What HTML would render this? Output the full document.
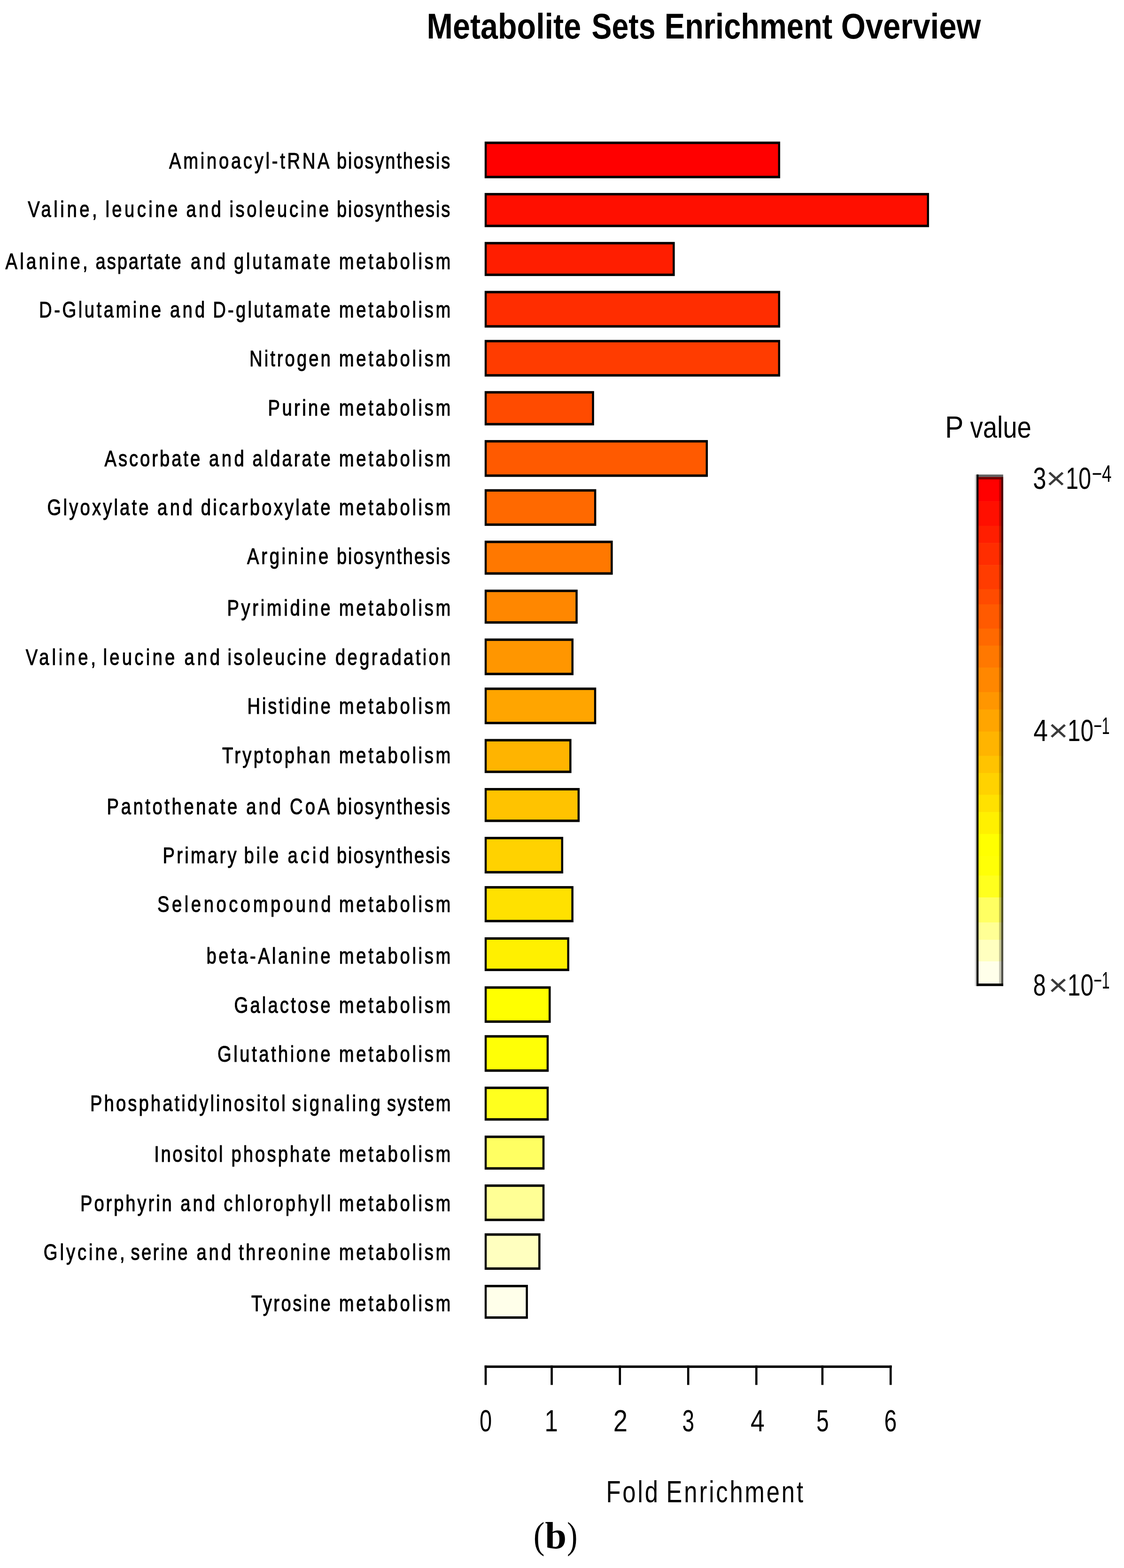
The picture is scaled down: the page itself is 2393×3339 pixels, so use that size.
<!DOCTYPE html>
<html lang="en"><head><meta charset="utf-8">
<title>Metabolite Sets Enrichment Overview</title>
<style>
html,body{margin:0;padding:0;background:#fff;}
body{width:2393px;height:3339px;overflow:hidden;}
svg{display:block;}
text{font-family:"Liberation Sans", sans-serif;fill:#000;white-space:pre;}
.lab{font-size:49.0px;stroke:#000;stroke-width:1.1px;stroke-linejoin:round;}
.tick{font-size:65px;}
.ttl{font-size:76px;font-weight:bold;}
.sup{font-size:50px;}
.cap{font-family:"Liberation Serif", serif;font-size:80px;}
</style></head><body>
<svg role="img" aria-label="Metabolite Sets Enrichment Overview bar chart" width="2393" height="3339" viewBox="0 0 2393 3339">
<rect x="0" y="0" width="2393" height="3339" fill="#ffffff"/>
<text id="title" class="ttl" y="82.3" transform="scale(0.85,1)"><tspan x="1068.94" textLength="386.55" lengthAdjust="spacingAndGlyphs">Metabolite</tspan> <tspan x="1481.88" textLength="159.95" lengthAdjust="spacingAndGlyphs">Sets</tspan> <tspan x="1664.47" textLength="420.55" lengthAdjust="spacingAndGlyphs">Enrichment</tspan> <tspan x="2106.82" textLength="350.15" lengthAdjust="spacingAndGlyphs">Overview</tspan></text>
<g id="bars">
<rect x="1031.8" y="301.5" width="629.2" height="78.1" fill="#000"/><rect x="1036.2" y="306.7" width="620.3" height="67.7" fill="#FF0000"/>
<rect x="1031.8" y="410.9" width="946.1" height="72.8" fill="#000"/><rect x="1036.2" y="416.1" width="937.2" height="62.4" fill="#FF0F00"/>
<rect x="1031.8" y="515.2" width="404.8" height="72.6" fill="#000"/><rect x="1036.2" y="520.4" width="395.9" height="62.2" fill="#FF1E00"/>
<rect x="1031.8" y="619.4" width="629.2" height="78.2" fill="#000"/><rect x="1036.2" y="624.6" width="620.3" height="67.8" fill="#FF2D00"/>
<rect x="1031.8" y="723.8" width="629.2" height="78.1" fill="#000"/><rect x="1036.2" y="729.0" width="620.3" height="67.7" fill="#FF3C00"/>
<rect x="1031.8" y="832.8" width="233.0" height="73.1" fill="#000"/><rect x="1036.2" y="838.0" width="224.1" height="62.7" fill="#FF4B00"/>
<rect x="1031.8" y="937.1" width="475.2" height="78.4" fill="#000"/><rect x="1036.2" y="942.3" width="466.3" height="68.0" fill="#FF5A00"/>
<rect x="1031.8" y="1041.7" width="237.6" height="78.1" fill="#000"/><rect x="1036.2" y="1046.9" width="228.7" height="67.7" fill="#FF6900"/>
<rect x="1031.8" y="1151.3" width="272.8" height="72.5" fill="#000"/><rect x="1036.2" y="1156.5" width="263.9" height="62.1" fill="#FF7800"/>
<rect x="1031.8" y="1255.6" width="198.0" height="72.5" fill="#000"/><rect x="1036.2" y="1260.8" width="189.1" height="62.1" fill="#FF8700"/>
<rect x="1031.8" y="1359.6" width="189.2" height="78.2" fill="#000"/><rect x="1036.2" y="1364.8" width="180.3" height="67.8" fill="#FF9600"/>
<rect x="1031.8" y="1464.1" width="237.5" height="78.1" fill="#000"/><rect x="1036.2" y="1469.3" width="228.6" height="67.7" fill="#FFA500"/>
<rect x="1031.8" y="1573.6" width="184.8" height="72.6" fill="#000"/><rect x="1036.2" y="1578.8" width="175.9" height="62.2" fill="#FFB400"/>
<rect x="1031.8" y="1678.0" width="202.3" height="72.5" fill="#000"/><rect x="1036.2" y="1683.2" width="193.4" height="62.1" fill="#FFC300"/>
<rect x="1031.8" y="1782.0" width="167.3" height="78.0" fill="#000"/><rect x="1036.2" y="1787.2" width="158.4" height="67.6" fill="#FFD200"/>
<rect x="1031.8" y="1886.9" width="189.1" height="77.1" fill="#000"/><rect x="1036.2" y="1892.1" width="180.2" height="66.7" fill="#FFE100"/>
<rect x="1031.8" y="1995.9" width="180.2" height="72.0" fill="#000"/><rect x="1036.2" y="2001.1" width="171.3" height="61.6" fill="#FFF000"/>
<rect x="1031.8" y="2100.3" width="140.7" height="77.8" fill="#000"/><rect x="1036.2" y="2105.5" width="131.8" height="67.4" fill="#FFFF00"/>
<rect x="1031.8" y="2204.3" width="136.4" height="78.1" fill="#000"/><rect x="1036.2" y="2209.5" width="127.5" height="67.7" fill="#FFFF06"/>
<rect x="1031.8" y="2313.9" width="136.4" height="72.5" fill="#000"/><rect x="1036.2" y="2319.1" width="127.5" height="62.1" fill="#FFFF1E"/>
<rect x="1031.8" y="2418.2" width="127.5" height="72.5" fill="#000"/><rect x="1036.2" y="2423.4" width="118.6" height="62.1" fill="#FFFF62"/>
<rect x="1031.8" y="2522.2" width="127.5" height="78.1" fill="#000"/><rect x="1036.2" y="2527.4" width="118.6" height="67.7" fill="#FFFF95"/>
<rect x="1031.8" y="2626.3" width="118.8" height="77.7" fill="#000"/><rect x="1036.2" y="2631.5" width="109.9" height="67.3" fill="#FFFFBF"/>
<rect x="1031.8" y="2736.0" width="92.1" height="72.3" fill="#000"/><rect x="1036.2" y="2741.2" width="83.2" height="61.9" fill="#FFFFEA"/>
</g>
<g id="labels">
<text id="lab0" class="lab" y="358.7" transform="scale(0.78,1)"><tspan x="461.54" textLength="437.97" lengthAdjust="spacing">Aminoacyl-tRNA</tspan> <tspan x="919.23" textLength="309.43" lengthAdjust="spacing">biosynthesis</tspan></text>
<text id="lab1" class="lab" y="462.3" transform="scale(0.78,1)"><tspan x="75.90" textLength="189.17" lengthAdjust="spacing">Valine,</tspan> <tspan x="287.69" textLength="197.14" lengthAdjust="spacing">leucine</tspan> <tspan x="508.21" textLength="95.27" lengthAdjust="spacing">and</tspan> <tspan x="626.15" textLength="271.28" lengthAdjust="spacing">isoleucine</tspan> <tspan x="919.23" textLength="309.43" lengthAdjust="spacing">biosynthesis</tspan></text>
<text id="lab2" class="lab" y="573.0" transform="scale(0.78,1)"><tspan x="14.62" textLength="224.70" lengthAdjust="spacing">Alanine,</tspan> <tspan x="261.03" textLength="233.63" lengthAdjust="spacing">aspartate</tspan> <tspan x="520.51" textLength="95.27" lengthAdjust="spacing">and</tspan> <tspan x="638.46" textLength="263.63" lengthAdjust="spacing">glutamate</tspan> <tspan x="925.38" textLength="304.62" lengthAdjust="spacing">metabolism</tspan></text>
<text id="lab3" class="lab" y="675.8" transform="scale(0.78,1)"><tspan x="106.41" textLength="333.28" lengthAdjust="spacing">D-Glutamine</tspan> <tspan x="464.10" textLength="95.27" lengthAdjust="spacing">and</tspan> <tspan x="581.03" textLength="320.98" lengthAdjust="spacing">D-glutamate</tspan> <tspan x="925.38" textLength="304.62" lengthAdjust="spacing">metabolism</tspan></text>
<text id="lab4" class="lab" y="780.0" transform="scale(0.78,1)"><tspan x="680.77" textLength="221.44" lengthAdjust="spacing">Nitrogen</tspan> <tspan x="925.38" textLength="304.62" lengthAdjust="spacing">metabolism</tspan></text>
<text id="lab5" class="lab" y="884.6" transform="scale(0.78,1)"><tspan x="731.54" textLength="169.59" lengthAdjust="spacing">Purine</tspan> <tspan x="925.38" textLength="304.62" lengthAdjust="spacing">metabolism</tspan></text>
<text id="lab6" class="lab" y="993.5" transform="scale(0.78,1)"><tspan x="285.38" textLength="261.03" lengthAdjust="spacing">Ascorbate</tspan> <tspan x="570.51" textLength="95.99" lengthAdjust="spacing">and</tspan> <tspan x="689.23" textLength="212.91" lengthAdjust="spacing">aldarate</tspan> <tspan x="925.38" textLength="304.62" lengthAdjust="spacing">metabolism</tspan></text>
<text id="lab7" class="lab" y="1097.0" transform="scale(0.78,1)"><tspan x="128.97" textLength="276.92" lengthAdjust="spacing">Glyoxylate</tspan> <tspan x="429.49" textLength="95.99" lengthAdjust="spacing">and</tspan> <tspan x="548.46" textLength="353.52" lengthAdjust="spacing">dicarboxylate</tspan> <tspan x="925.38" textLength="304.62" lengthAdjust="spacing">metabolism</tspan></text>
<text id="lab8" class="lab" y="1201.5" transform="scale(0.78,1)"><tspan x="674.36" textLength="222.08" lengthAdjust="spacing">Arginine</tspan> <tspan x="919.23" textLength="309.43" lengthAdjust="spacing">biosynthesis</tspan></text>
<text id="lab9" class="lab" y="1311.0" transform="scale(0.78,1)"><tspan x="619.74" textLength="282.31" lengthAdjust="spacing">Pyrimidine</tspan> <tspan x="925.38" textLength="304.62" lengthAdjust="spacing">metabolism</tspan></text>
<text id="lab10" class="lab" y="1415.7" transform="scale(0.78,1)"><tspan x="70.26" textLength="191.22" lengthAdjust="spacing">Valine,</tspan> <tspan x="281.28" textLength="196.07" lengthAdjust="spacing">leucine</tspan> <tspan x="503.33" textLength="96.78" lengthAdjust="spacing">and</tspan> <tspan x="621.03" textLength="269.23" lengthAdjust="spacing">isoleucine</tspan> <tspan x="915.38" textLength="314.58" lengthAdjust="spacing">degradation</tspan></text>
<text id="lab11" class="lab" y="1520.3" transform="scale(0.78,1)"><tspan x="675.13" textLength="226.99" lengthAdjust="spacing">Histidine</tspan> <tspan x="925.38" textLength="304.62" lengthAdjust="spacing">metabolism</tspan></text>
<text id="lab12" class="lab" y="1625.0" transform="scale(0.78,1)"><tspan x="606.41" textLength="295.64" lengthAdjust="spacing">Tryptophan</tspan> <tspan x="925.38" textLength="304.62" lengthAdjust="spacing">metabolism</tspan></text>
<text id="lab13" class="lab" y="1733.8" transform="scale(0.78,1)"><tspan x="291.79" textLength="356.06" lengthAdjust="spacing">Pantothenate</tspan> <tspan x="672.05" textLength="94.65" lengthAdjust="spacing">and</tspan> <tspan x="791.03" textLength="108.64" lengthAdjust="spacing">CoA</tspan> <tspan x="919.23" textLength="309.43" lengthAdjust="spacing">biosynthesis</tspan></text>
<text id="lab14" class="lab" y="1838.5" transform="scale(0.78,1)"><tspan x="444.36" textLength="201.17" lengthAdjust="spacing">Primary</tspan> <tspan x="665.90" textLength="94.56" lengthAdjust="spacing">bile</tspan> <tspan x="785.13" textLength="113.26" lengthAdjust="spacing">acid</tspan> <tspan x="919.23" textLength="309.43" lengthAdjust="spacing">biosynthesis</tspan></text>
<text id="lab15" class="lab" y="1941.8" transform="scale(0.78,1)"><tspan x="429.49" textLength="473.69" lengthAdjust="spacing">Selenocompound</tspan> <tspan x="925.38" textLength="304.62" lengthAdjust="spacing">metabolism</tspan></text>
<text id="lab16" class="lab" y="2052.0" transform="scale(0.78,1)"><tspan x="563.59" textLength="338.37" lengthAdjust="spacing">beta-Alanine</tspan> <tspan x="925.38" textLength="304.62" lengthAdjust="spacing">metabolism</tspan></text>
<text id="lab17" class="lab" y="2156.6" transform="scale(0.78,1)"><tspan x="639.23" textLength="262.86" lengthAdjust="spacing">Galactose</tspan> <tspan x="925.38" textLength="304.62" lengthAdjust="spacing">metabolism</tspan></text>
<text id="lab18" class="lab" y="2261.2" transform="scale(0.78,1)"><tspan x="593.59" textLength="308.42" lengthAdjust="spacing">Glutathione</tspan> <tspan x="925.38" textLength="304.62" lengthAdjust="spacing">metabolism</tspan></text>
<text id="lab19" class="lab" y="2365.8" transform="scale(0.78,1)"><tspan x="246.15" textLength="533.00" lengthAdjust="spacing">Phosphatidylinositol</tspan> <tspan x="797.18" textLength="240.82" lengthAdjust="spacing">signaling</tspan> <tspan x="1056.41" textLength="173.86" lengthAdjust="spacing">system</tspan></text>
<text id="lab20" class="lab" y="2474.2" transform="scale(0.78,1)"><tspan x="420.77" textLength="187.59" lengthAdjust="spacing">Inositol</tspan> <tspan x="631.28" textLength="270.83" lengthAdjust="spacing">phosphate</tspan> <tspan x="925.38" textLength="304.62" lengthAdjust="spacing">metabolism</tspan></text>
<text id="lab21" class="lab" y="2578.8" transform="scale(0.78,1)"><tspan x="219.23" textLength="249.82" lengthAdjust="spacing">Porphyrin</tspan> <tspan x="492.56" textLength="94.49" lengthAdjust="spacing">and</tspan> <tspan x="610.51" textLength="292.78" lengthAdjust="spacing">chlorophyll</tspan> <tspan x="925.38" textLength="304.62" lengthAdjust="spacing">metabolism</tspan></text>
<text id="lab22" class="lab" y="2682.8" transform="scale(0.78,1)"><tspan x="118.97" textLength="221.44" lengthAdjust="spacing">Glycine,</tspan> <tspan x="356.92" textLength="155.28" lengthAdjust="spacing">serine</tspan> <tspan x="536.41" textLength="94.49" lengthAdjust="spacing">and</tspan> <tspan x="651.54" textLength="250.54" lengthAdjust="spacing">threonine</tspan> <tspan x="925.38" textLength="304.62" lengthAdjust="spacing">metabolism</tspan></text>
<text id="lab23" class="lab" y="2792.3" transform="scale(0.78,1)"><tspan x="685.90" textLength="216.21" lengthAdjust="spacing">Tyrosine</tspan> <tspan x="925.38" textLength="304.62" lengthAdjust="spacing">metabolism</tspan></text>
</g>
<g id="axis" fill="#000">
<rect x="1031.7" y="2907.7" width="866.8" height="5.2"/>
<rect x="1031.7" y="2907.7" width="4.6" height="41.5"/>
<rect x="1172.3" y="2907.7" width="4.6" height="41.5"/>
<rect x="1317.5" y="2907.7" width="4.6" height="41.5"/>
<rect x="1462.9" y="2907.7" width="4.6" height="41.5"/>
<rect x="1608.0" y="2907.7" width="4.6" height="41.5"/>
<rect x="1748.6" y="2907.7" width="4.6" height="41.5"/>
<rect x="1893.9" y="2907.7" width="4.6" height="41.5"/>
</g>
<g id="ticklabels">
<text id="tk0" class="tick" y="3048.4" transform="scale(0.78,1)"><tspan x="1308.97" textLength="33.58" lengthAdjust="spacingAndGlyphs">0</tspan></text>
<text id="tk1" class="tick" y="3048.4" transform="scale(0.78,1)"><tspan x="1486.67" textLength="36.28" lengthAdjust="spacingAndGlyphs">1</tspan></text>
<text id="tk2" class="tick" y="3048.4" transform="scale(0.78,1)"><tspan x="1674.10" textLength="38.84" lengthAdjust="spacingAndGlyphs">2</tspan></text>
<text id="tk3" class="tick" y="3048.4" transform="scale(0.78,1)"><tspan x="1862.05" textLength="32.79" lengthAdjust="spacingAndGlyphs">3</tspan></text>
<text id="tk4" class="tick" y="3048.4" transform="scale(0.78,1)"><tspan x="2048.72" textLength="38.10" lengthAdjust="spacingAndGlyphs">4</tspan></text>
<text id="tk5" class="tick" y="3048.4" transform="scale(0.78,1)"><tspan x="2228.21" textLength="34.21" lengthAdjust="spacingAndGlyphs">5</tspan></text>
<text id="tk6" class="tick" y="3048.4" transform="scale(0.78,1)"><tspan x="2413.59" textLength="34.21" lengthAdjust="spacingAndGlyphs">6</tspan></text>
</g>
<text id="xlab" class="tick" y="3199.2" transform="scale(0.78,1)"><tspan x="1654.36" textLength="141.74" lengthAdjust="spacing">Fold</tspan> <tspan x="1818.72" textLength="373.59" lengthAdjust="spacing">Enrichment</tspan></text>
<text id="pval" class="tick" y="932.0" transform="scale(0.78,1)"><tspan x="2579.49" textLength="50.37" lengthAdjust="spacingAndGlyphs">P</tspan> <tspan x="2648.21" textLength="166.77" lengthAdjust="spacingAndGlyphs">value</tspan></text>
<g id="legend">
<rect x="2079.0" y="1015.7" width="56.8" height="52.2" fill="#FF0000"/>
<rect x="2079.0" y="1067.3" width="56.8" height="53.1" fill="#FF0F00"/>
<rect x="2079.0" y="1119.8" width="56.8" height="37.0" fill="#FF1E00"/>
<rect x="2079.0" y="1156.2" width="56.8" height="47.6" fill="#FF2D00"/>
<rect x="2079.0" y="1203.2" width="56.8" height="51.9" fill="#FF3C00"/>
<rect x="2079.0" y="1254.5" width="56.8" height="32.9" fill="#FF4B00"/>
<rect x="2079.0" y="1286.8" width="56.8" height="52.3" fill="#FF5A00"/>
<rect x="2079.0" y="1338.5" width="56.8" height="36.9" fill="#FF6900"/>
<rect x="2079.0" y="1374.8" width="56.8" height="47.3" fill="#FF7800"/>
<rect x="2079.0" y="1421.5" width="56.8" height="52.9" fill="#FF8700"/>
<rect x="2079.0" y="1473.8" width="56.8" height="37.5" fill="#FF9600"/>
<rect x="2079.0" y="1510.7" width="56.8" height="47.6" fill="#FFA500"/>
<rect x="2079.0" y="1557.7" width="56.8" height="52.5" fill="#FFB400"/>
<rect x="2079.0" y="1609.6" width="56.8" height="37.0" fill="#FFC300"/>
<rect x="2079.0" y="1646.0" width="56.8" height="47.0" fill="#FFD200"/>
<rect x="2079.0" y="1692.4" width="56.8" height="37.5" fill="#FFE100"/>
<rect x="2079.0" y="1729.3" width="56.8" height="47.1" fill="#FFF000"/>
<rect x="2079.0" y="1775.8" width="56.8" height="47.5" fill="#FFFF00"/>
<rect x="2079.0" y="1822.7" width="56.8" height="42.3" fill="#FFFF06"/>
<rect x="2079.0" y="1864.4" width="56.8" height="47.2" fill="#FFFF1E"/>
<rect x="2079.0" y="1911.0" width="56.8" height="53.9" fill="#FFFF62"/>
<rect x="2079.0" y="1964.3" width="56.8" height="37.6" fill="#FFFF95"/>
<rect x="2079.0" y="2001.3" width="56.8" height="46.5" fill="#FFFFBF"/>
<rect x="2079.0" y="2047.2" width="56.8" height="47.8" fill="#FFFFEA"/>
<rect x="2075.7" y="1010.5" width="3.3" height="1089.3" fill="#000" fill-opacity="0.2"/>
<rect x="2079.0" y="1010.5" width="4.3" height="1089.3" fill="#000"/>
<rect x="2127.0" y="1021.0" width="4.5" height="1073.4" fill="#000" fill-opacity="0.22"/>
<rect x="2131.5" y="1015.5" width="4.5" height="1084.3" fill="#000" fill-opacity="0.68"/>
<rect x="2079.0" y="1010.5" width="56.8" height="5.2" fill="#000" fill-opacity="0.62"/>
<rect x="2083.3" y="1015.7" width="48.7" height="5.2" fill="#000" fill-opacity="0.55"/>
<rect x="2079.0" y="2094.4" width="56.8" height="5.4" fill="#000"/>
</g>
<g id="legendlabels">
<text id="lg0" class="tick" y="1041.4" transform="scale(0.78,1)"><tspan x="2819.49" textLength="36.12" lengthAdjust="spacingAndGlyphs">3</tspan><tspan x="2855.38" fill="#3a3a3a" textLength="53.96" lengthAdjust="spacingAndGlyphs">×</tspan><tspan x="2908.97" textLength="69.41" lengthAdjust="spacingAndGlyphs">10</tspan><tspan x="2980.00" class="sup" y="1026.3" textLength="53.96" lengthAdjust="spacingAndGlyphs">−4</tspan></text>
<text id="lg1" class="tick" y="1578.2" transform="scale(0.78,1)"><tspan x="2820.77" textLength="39.28" lengthAdjust="spacingAndGlyphs">4</tspan><tspan x="2861.54" fill="#3a3a3a" textLength="53.96" lengthAdjust="spacingAndGlyphs">×</tspan><tspan x="2913.85" textLength="70.86" lengthAdjust="spacingAndGlyphs">10</tspan><tspan x="2984.87" class="sup" y="1563.0" textLength="44.18" lengthAdjust="spacingAndGlyphs">−1</tspan></text>
<text id="lg2" class="tick" y="2120.0" transform="scale(0.78,1)"><tspan x="2820.00" textLength="34.80" lengthAdjust="spacingAndGlyphs">8</tspan><tspan x="2861.54" fill="#3a3a3a" textLength="53.96" lengthAdjust="spacingAndGlyphs">×</tspan><tspan x="2913.85" textLength="70.86" lengthAdjust="spacingAndGlyphs">10</tspan><tspan x="2984.87" class="sup" y="2105.0" textLength="44.21" lengthAdjust="spacingAndGlyphs">−1</tspan></text>
</g>
<text id="cap" class="cap" y="3297.2" transform="scale(1.0,1)"><tspan x="1135.80" textLength="23.73" lengthAdjust="spacingAndGlyphs">(</tspan><tspan x="1160.20" font-weight="bold" textLength="45.89" lengthAdjust="spacingAndGlyphs">b</tspan><tspan x="1207.20" textLength="22.20" lengthAdjust="spacingAndGlyphs">)</tspan></text>
</svg>
</body></html>
